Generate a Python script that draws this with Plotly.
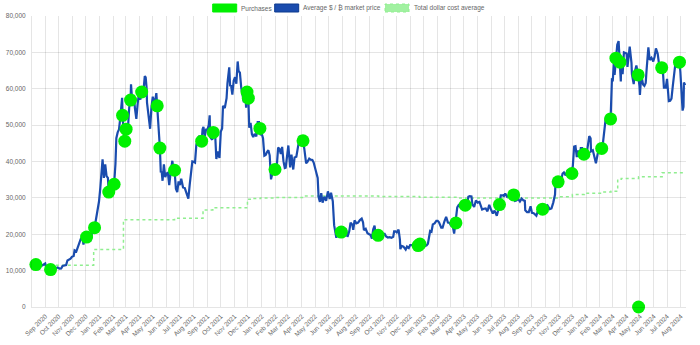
import plotly.graph_objects as go
import pandas as pd

# ---- market price of bitcoin in USD (date, close) ----
price_2020 = [
    ("2020-08-02", 11100), ("2020-08-05", 11750), ("2020-08-08", 11650), ("2020-08-13", 11780),
    ("2020-08-17", 12300), ("2020-08-21", 11600), ("2020-08-25", 11400), ("2020-08-29", 11700),
    ("2020-09-01", 11950), ("2020-09-04", 10500), ("2020-09-08", 10150), ("2020-09-17", 10950),
    ("2020-09-21", 10450), ("2020-09-25", 10750), ("2020-09-29", 10840), ("2020-10-03", 10580),
    ("2020-10-07", 10600), ("2020-10-10", 11300), ("2020-10-14", 11420), ("2020-10-18", 11500),
    ("2020-10-21", 12800), ("2020-10-25", 13030), ("2020-10-28", 13270), ("2020-10-31", 13800),
    ("2020-11-04", 14000), ("2020-11-06", 15600), ("2020-11-10", 15300), ("2020-11-13", 16300),
    ("2020-11-17", 17800), ("2020-11-20", 18700), ("2020-11-24", 19150), ("2020-11-26", 17150),
    ("2020-11-30", 19700), ("2020-12-07", 19200), ("2020-12-11", 18050), ("2020-12-14", 19270),
    ("2020-12-17", 22800), ("2020-12-24", 23700), ("2020-12-27", 26300), ("2020-12-31", 29000),
]
price_2021 = [
    ("2021-01-03", 32800), ("2021-01-06", 36800), ("2021-01-08", 40600), ("2021-01-11", 35500),
    ("2021-01-14", 39200), ("2021-01-17", 36000), ("2021-01-20", 35500), ("2021-01-25", 32300),
    ("2021-01-28", 33400), ("2021-01-31", 33100), ("2021-02-06", 39300), ("2021-02-08", 46400),
    ("2021-02-11", 48000), ("2021-02-14", 48800), ("2021-02-17", 52100), ("2021-02-21", 57500),
    ("2021-02-23", 48800), ("2021-02-25", 47100), ("2021-03-06", 48900), ("2021-03-09", 54900),
    ("2021-03-13", 61200), ("2021-03-16", 56000), ("2021-03-19", 58300), ("2021-03-22", 54500),
    ("2021-03-25", 51700), ("2021-03-28", 55900), ("2021-03-31", 58800), ("2021-04-03", 57000),
    ("2021-04-09", 58100), ("2021-04-13", 63500), ("2021-04-15", 63100), ("2021-04-17", 60400),
    ("2021-04-18", 56200), ("2021-04-22", 51700), ("2021-04-25", 49000), ("2021-04-28", 54900),
    ("2021-05-01", 57800), ("2021-05-03", 56600), ("2021-05-07", 57300), ("2021-05-09", 58800),
    ("2021-05-13", 49700), ("2021-05-19", 37000), ("2021-05-21", 37300), ("2021-05-23", 34700),
    ("2021-05-26", 39200), ("2021-05-29", 35700), ("2021-06-01", 36700), ("2021-06-04", 36900),
    ("2021-06-07", 33500), ("2021-06-10", 36700), ("2021-06-14", 40200), ("2021-06-16", 38300),
    ("2021-06-22", 32500), ("2021-06-25", 31600), ("2021-06-28", 34500), ("2021-07-01", 33500),
    ("2021-07-04", 35300), ("2021-07-08", 32900), ("2021-07-12", 32700), ("2021-07-15", 31800),
    ("2021-07-20", 29800), ("2021-07-23", 33600), ("2021-07-26", 37300), ("2021-07-29", 40000),
    ("2021-08-01", 39900), ("2021-08-04", 39700), ("2021-08-07", 44600), ("2021-08-10", 45600),
    ("2021-08-14", 47100), ("2021-08-17", 44800), ("2021-08-21", 48900), ("2021-08-23", 49500),
    ("2021-08-26", 47000), ("2021-08-29", 48800), ("2021-09-01", 48800), ("2021-09-04", 50000),
    ("2021-09-06", 52700), ("2021-09-07", 46800), ("2021-09-09", 46400), ("2021-09-12", 46000),
    ("2021-09-16", 47700), ("2021-09-18", 48300), ("2021-09-21", 40700), ("2021-09-24", 42800),
    ("2021-09-28", 41000), ("2021-10-01", 48200), ("2021-10-04", 49100), ("2021-10-06", 55300),
    ("2021-10-10", 54700), ("2021-10-14", 57400), ("2021-10-16", 61500), ("2021-10-20", 65900),
    ("2021-10-22", 60700), ("2021-10-24", 61000), ("2021-10-27", 58400), ("2021-10-30", 62200),
    ("2021-11-02", 63200), ("2021-11-05", 61400), ("2021-11-08", 67500), ("2021-11-10", 64900),
    ("2021-11-13", 64400), ("2021-11-16", 60300), ("2021-11-19", 58100), ("2021-11-22", 56300),
    ("2021-11-25", 59000), ("2021-11-27", 54800), ("2021-12-04", 49300), ("2021-12-07", 50600),
    ("2021-12-10", 47500), ("2021-12-13", 46700), ("2021-12-16", 47600), ("2021-12-20", 46900),
    ("2021-12-23", 50800), ("2021-12-26", 50800), ("2021-12-30", 47200),
]
price_2022 = [
    ("2022-01-01", 47700), ("2022-01-04", 46400), ("2022-01-07", 41600), ("2022-01-10", 41800),
    ("2022-01-13", 42600), ("2022-01-16", 43100), ("2022-01-19", 41700), ("2022-01-22", 35100),
    ("2022-01-25", 36700), ("2022-01-28", 37700), ("2022-02-03", 37000), ("2022-02-07", 43800),
    ("2022-02-10", 43500), ("2022-02-13", 42100), ("2022-02-16", 44000), ("2022-02-19", 40100),
    ("2022-02-22", 38200), ("2022-02-24", 38300), ("2022-02-28", 43200), ("2022-03-02", 44400),
    ("2022-03-06", 38400), ("2022-03-09", 41900), ("2022-03-13", 37800), ("2022-03-16", 41100),
    ("2022-03-20", 41300), ("2022-03-24", 44000), ("2022-03-28", 47100), ("2022-03-31", 45500),
    ("2022-04-07", 43400), ("2022-04-11", 39500), ("2022-04-14", 39900), ("2022-04-18", 40800),
    ("2022-04-21", 40500), ("2022-04-25", 40400), ("2022-04-28", 39700), ("2022-05-01", 38500),
    ("2022-05-05", 36500), ("2022-05-07", 35500), ("2022-05-09", 30300), ("2022-05-12", 28900),
    ("2022-05-15", 31300), ("2022-05-18", 28700), ("2022-05-22", 30300), ("2022-05-26", 29200),
    ("2022-05-30", 31800), ("2022-06-03", 29700), ("2022-06-06", 31400), ("2022-06-10", 29100),
    ("2022-06-13", 22500), ("2022-06-16", 20400), ("2022-06-18", 19000), ("2022-06-21", 20700),
    ("2022-06-24", 21200), ("2022-06-26", 21000), ("2022-07-02", 19300), ("2022-07-06", 20500),
    ("2022-07-09", 21600), ("2022-07-13", 19300), ("2022-07-17", 20800), ("2022-07-20", 23200),
    ("2022-07-24", 22600), ("2022-07-26", 21200), ("2022-07-29", 23800), ("2022-08-02", 23000),
    ("2022-08-06", 23200), ("2022-08-10", 23900), ("2022-08-14", 24300), ("2022-08-17", 23300),
    ("2022-08-19", 21100), ("2022-08-23", 21500), ("2022-08-27", 20300), ("2022-08-31", 20000),
    ("2022-09-03", 19800), ("2022-09-06", 18800), ("2022-09-09", 21400), ("2022-09-12", 22400),
    ("2022-09-14", 20200), ("2022-09-17", 20100), ("2022-09-23", 19300), ("2022-09-27", 19100),
    ("2022-09-30", 19400), ("2022-10-04", 20300), ("2022-10-08", 19400), ("2022-10-12", 19100),
    ("2022-10-16", 19200), ("2022-10-20", 19000), ("2022-10-24", 19300), ("2022-10-26", 20800),
    ("2022-10-29", 20800), ("2022-11-01", 20500), ("2022-11-05", 21300), ("2022-11-08", 18500),
    ("2022-11-09", 15900), ("2022-11-12", 16800), ("2022-11-16", 16600), ("2022-11-21", 15800),
    ("2022-11-24", 16600), ("2022-11-28", 16200), ("2022-12-01", 17000), ("2022-12-05", 17000),
    ("2022-12-09", 17100), ("2022-12-14", 17800), ("2022-12-17", 16800), ("2022-12-26", 16900),
    ("2022-12-30", 16600),
]
price_2023 = [
    ("2023-01-03", 16700), ("2023-01-07", 16950), ("2023-01-10", 17400), ("2023-01-13", 19900),
    ("2023-01-15", 20900), ("2023-01-18", 20700), ("2023-01-21", 22700), ("2023-01-25", 23000),
    ("2023-01-29", 23700), ("2023-02-01", 23700), ("2023-02-04", 23300), ("2023-02-09", 21800),
    ("2023-02-12", 21800), ("2023-02-16", 23500), ("2023-02-20", 24800), ("2023-02-24", 23200),
    ("2023-02-28", 23100), ("2023-03-03", 22400), ("2023-03-07", 22200), ("2023-03-10", 20200),
    ("2023-03-12", 22100), ("2023-03-17", 27400), ("2023-03-20", 28000), ("2023-03-24", 27500),
    ("2023-03-28", 27100), ("2023-03-31", 28500), ("2023-04-08", 27900), ("2023-04-11", 30300),
    ("2023-04-14", 30500), ("2023-04-18", 30400), ("2023-04-20", 28200), ("2023-04-24", 27500),
    ("2023-04-28", 29300), ("2023-05-02", 28700), ("2023-05-06", 28900), ("2023-05-09", 27700),
    ("2023-05-12", 26800), ("2023-05-16", 27000), ("2023-05-20", 27100), ("2023-05-24", 26300),
    ("2023-05-28", 28100), ("2023-06-01", 26800), ("2023-06-05", 25700), ("2023-06-09", 26500),
    ("2023-06-14", 25100), ("2023-06-17", 26500), ("2023-06-23", 30700), ("2023-06-27", 30700),
    ("2023-06-30", 30500), ("2023-07-03", 31200), ("2023-07-07", 30300), ("2023-07-10", 30400),
    ("2023-07-13", 31400), ("2023-07-17", 30100), ("2023-07-19", 29900), ("2023-07-25", 29200),
    ("2023-07-28", 29300), ("2023-08-01", 29700), ("2023-08-05", 29000), ("2023-08-09", 29800),
    ("2023-08-13", 29300), ("2023-08-16", 29200), ("2023-08-17", 26600), ("2023-08-21", 26100),
    ("2023-08-25", 26100), ("2023-08-29", 27700), ("2023-09-01", 25900), ("2023-09-05", 25800),
    ("2023-09-11", 25100), ("2023-09-15", 26600), ("2023-09-19", 27200), ("2023-09-22", 26600),
    ("2023-09-29", 27000), ("2023-10-02", 27500), ("2023-10-06", 27900), ("2023-10-11", 26900),
    ("2023-10-15", 27100), ("2023-10-19", 28700), ("2023-10-23", 30900), ("2023-10-24", 33900),
    ("2023-10-27", 34000), ("2023-11-02", 34900), ("2023-11-06", 35000), ("2023-11-09", 36700),
    ("2023-11-12", 37000), ("2023-11-16", 36200), ("2023-11-20", 37500), ("2023-11-24", 37700),
    ("2023-11-27", 37200), ("2023-12-02", 38700), ("2023-12-04", 41900), ("2023-12-05", 44100),
    ("2023-12-08", 44200), ("2023-12-11", 41200), ("2023-12-14", 43000), ("2023-12-18", 41300),
    ("2023-12-20", 43700), ("2023-12-23", 43700), ("2023-12-31", 42300),
]
price_2024 = [
    ("2024-01-03", 42800), ("2024-01-08", 47000), ("2024-01-11", 46400), ("2024-01-12", 42800),
    ("2024-01-16", 43100), ("2024-01-19", 41600), ("2024-01-23", 39500), ("2024-01-27", 42100),
    ("2024-01-30", 43300), ("2024-02-02", 43200), ("2024-02-08", 45300), ("2024-02-11", 48300),
    ("2024-02-14", 51800), ("2024-02-17", 51600), ("2024-02-21", 51300), ("2024-02-27", 57000),
    ("2024-02-28", 62500), ("2024-03-01", 62400), ("2024-03-04", 68300), ("2024-03-05", 63800),
    ("2024-03-11", 72100), ("2024-03-14", 73100), ("2024-03-19", 62000), ("2024-03-20", 67800),
    ("2024-03-23", 64000), ("2024-03-26", 70000), ("2024-03-29", 69900), ("2024-04-01", 69700),
    ("2024-04-03", 66000), ("2024-04-08", 71600), ("2024-04-12", 67100), ("2024-04-13", 64000),
    ("2024-04-17", 61300), ("2024-04-20", 64900), ("2024-04-23", 66400), ("2024-04-30", 60700),
    ("2024-05-01", 58300), ("2024-05-04", 63900), ("2024-05-08", 61200), ("2024-05-11", 60800),
    ("2024-05-14", 61600), ("2024-05-16", 65200), ("2024-05-20", 71400), ("2024-05-23", 67900),
    ("2024-05-27", 68500), ("2024-05-31", 67500), ("2024-06-03", 68800), ("2024-06-06", 71100),
    ("2024-06-10", 69600), ("2024-06-13", 66800), ("2024-06-16", 66600), ("2024-06-22", 64200),
    ("2024-06-24", 60300), ("2024-06-28", 60300), ("2024-07-01", 62700), ("2024-07-04", 57000),
    ("2024-07-05", 56600), ("2024-07-08", 56700), ("2024-07-11", 57300), ("2024-07-14", 60800),
    ("2024-07-17", 64100), ("2024-07-21", 68200), ("2024-07-24", 65800), ("2024-07-31", 64600),
    ("2024-08-02", 61400), ("2024-08-04", 58100), ("2024-08-05", 54000), ("2024-08-07", 55000),
    ("2024-08-08", 61700), ("2024-08-11", 61000),
]

# ---- individual purchases (price paid per coin) ----
purchase_dates = [
    "2020-08-11", "2020-09-13", "2020-12-03", "2020-12-21", "2021-01-22", "2021-02-03",
    "2021-02-22", "2021-02-27", "2021-03-02", "2021-03-12", "2021-04-06", "2021-05-11",
    "2021-05-17", "2021-06-19", "2021-08-19", "2021-09-14", "2021-11-29", "2021-12-02",
    "2021-12-28", "2022-01-31", "2022-04-04", "2022-06-29", "2022-09-20", "2022-12-19",
    "2022-12-23", "2023-03-14", "2023-04-04", "2023-06-20", "2023-07-22", "2023-09-25",
    "2023-10-30", "2023-11-30", "2023-12-27", "2024-02-05", "2024-02-25", "2024-03-08",
    "2024-03-17", "2024-04-27", "2024-04-28", "2024-06-19", "2024-07-29",
]
purchase_prices = [
    11650, 10300, 19230, 21800, 31600, 33750,
    52700, 45600, 48900, 56900, 59100, 55300,
    43700, 37600, 45600, 48000, 59100, 57400,
    49100, 37800, 45700, 20600, 19700, 16900,
    17300, 23100, 28000, 28150, 30800, 26900,
    34400, 36700, 42000, 43600, 51700, 68400,
    67300, 63800, 0, 65800, 67300,
]

# ---- running dollar cost average (value after each update) ----
dca_dates = [
    "2020-08-02", "2020-12-19", "2021-02-24", "2021-06-19", "2021-08-22", "2021-09-13",
    "2021-11-30", "2021-12-10", "2021-12-29", "2022-02-01", "2022-04-05", "2022-06-30",
    "2022-09-21", "2022-12-22", "2023-03-20", "2023-10-20", "2023-10-31", "2023-12-01",
    "2023-12-28", "2024-02-06", "2024-02-26", "2024-03-12", "2024-03-20", "2024-04-28",
    "2024-06-20", "2024-08-11",
]
dca_values = [
    11500, 15800, 24000, 24400, 26700, 27300,
    29600, 29800, 30000, 30100, 30500, 30500,
    30400, 30200, 30000, 30000, 30300, 30900,
    31300, 31600, 31800, 35100, 35300, 35800,
    36900, 36900,
]

legend_labels = ["Purchases", "Average $ / \u20bf market price", "Total dollar cost average"]

# purchases are part of the market price path, so each buy sits on the line
price_points = dict(price_2020 + price_2021 + price_2022 + price_2023 + price_2024)
for d, p in zip(purchase_dates, purchase_prices):
    if p > 0:
        price_points[d] = p
line_dates = sorted(price_points)
line_values = [price_points[d] for d in line_dates]

BLUE = "#1a4cae"
LIME = "#00f000"
LIGHT_GREEN = "#90ee90"
GRID = "rgba(0,0,0,0.1)"
TEXT = "#666666"
FONT = "Liberation Sans, Arial, Helvetica, sans-serif"

W, H = 700, 345
L, R, T, B = 32, 14, 16, 38

fig = go.Figure()
fig.add_trace(go.Scatter(
    x=dca_dates, y=dca_values, mode="lines", line_shape="hv",
    line=dict(color=LIGHT_GREEN, width=1.5, dash="3px,3px"), name=legend_labels[2],
))
fig.add_trace(go.Scatter(
    x=line_dates, y=line_values, mode="lines",
    line=dict(color=BLUE, width=2.2), name=legend_labels[1],
))
fig.add_trace(go.Scatter(
    x=purchase_dates, y=purchase_prices, mode="markers", cliponaxis=False,
    marker=dict(color=LIME, size=13, line=dict(width=0)), name=legend_labels[0],
))

month_ticks = pd.date_range("2020-09-01", "2024-08-01", freq="MS")

fig.update_xaxes(
    type="date", range=["2020-08-02 06:00", "2024-08-12 16:00"],
    tickvals=month_ticks, tickformat="%b %Y", tickangle=-45,
    showgrid=True, gridcolor=GRID, gridwidth=1,
    showline=True, linecolor=GRID, linewidth=1,
    tickfont=dict(family=FONT, size=6.5, color=TEXT),
    ticks="", zeroline=False, ticklabelstandoff=2, automargin=False,
)
fig.update_yaxes(
    range=[0, 80000], dtick=10000, tickformat=",",
    showgrid=True, gridcolor=GRID, gridwidth=1,
    showline=True, linecolor=GRID, linewidth=1,
    tickfont=dict(family=FONT, size=6.5, color=TEXT),
    ticks="", zeroline=False, ticklabelstandoff=4, automargin=False,
)


def px(x):
    return (x - L) / (W - L - R)


def py(y):
    return (H - B - y) / (H - T - B)


# legend drawn as coloured boxes with labels along the top edge
legend_boxes = [
    (212.7, LIME, LIME, "solid"),
    (274.7, BLUE, "#0d3a8f", "solid"),
    (385.0, "rgba(144,238,144,0.85)", LIGHT_GREEN, "dot"),
]
shapes = []
annotations = []
for (bx, fill, edge, dash), label in zip(legend_boxes, legend_labels):
    shapes.append(dict(
        type="rect", xref="paper", yref="paper",
        x0=px(bx), x1=px(bx + 24), y0=py(12), y1=py(4),
        fillcolor=fill, line=dict(color=edge, width=1, dash=dash), layer="above",
    ))
    annotations.append(dict(
        xref="paper", yref="paper", x=px(bx + 26.5), y=py(8.3),
        xanchor="left", yanchor="middle", text=label, showarrow=False,
        font=dict(family=FONT, size=6.5, color=TEXT),
    ))

fig.update_layout(
    width=W, height=H,
    margin=dict(l=L, r=R, t=T, b=B, pad=0),
    paper_bgcolor="white", plot_bgcolor="white",
    showlegend=False,
    shapes=shapes, annotations=annotations,
    font=dict(family=FONT, size=6.5, color=TEXT),
)

fig.write_html("out.html")
